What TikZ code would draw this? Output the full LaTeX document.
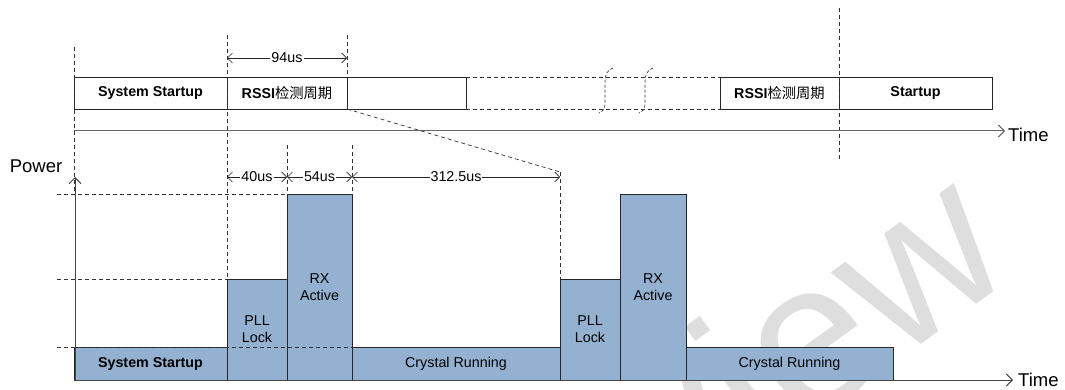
\documentclass[tikz,border=0pt]{standalone}
\usepackage{fontspec}
\setmainfont{Liberation Sans}
\newfontfamily\cjk{Noto Sans CJK SC}
\usetikzlibrary{arrows.meta}
\definecolor{blockblue}{RGB}{149,177,210}
\definecolor{linegray}{RGB}{70,70,70}
\definecolor{wmgray}{RGB}{222,222,222}

\begin{document}
\begin{tikzpicture}[x=1pt,y=-1pt,
  frame/.style={draw=black!85, line width=0.8pt, inner sep=0pt, outer sep=0pt,
    anchor=north west, align=center, font=\fontsize{14.3}{17}\selectfont},
  boldtext/.style={font=\fontsize{14.3}{17}\selectfont\bfseries},
  block/.style={frame, fill=blockblue},
  guide/.style={draw=black!80, line width=0.7pt, dash pattern=on 4pt off 3pt},
  dimline/.style={draw=black!85, line width=0.7pt,
    {Straight Barb[length=5pt,width=10pt]}-{Straight Barb[length=5pt,width=10pt]}},
  dimlabel/.style={fill=white, inner sep=1pt, font=\fontsize{14.3}{17}\selectfont},
  axis/.style={draw=linegray, line width=1pt, -{Straight Barb[length=6pt,width=12pt]}},
  axislabel/.style={font=\fontsize{18.5}{22}\selectfont, inner sep=0pt},
  ]
\useasboundingbox (0,0) rectangle (1065,390);

% watermark
\begin{scope}
  \clip (0,0) rectangle (1065,390);
  \node[text=wmgray, rotate=36, anchor=base east, inner sep=0pt,
        font=\fontsize{210}{210}\selectfont] (wm) at (1019,273) {Preview};
\end{scope}

% ---------- upper timeline ----------
\node[frame, boldtext, minimum width=153pt, minimum height=32pt] (sys) at (74,77) {System Startup};
\node[frame, minimum width=120pt, minimum height=32pt] (rs1) at (227,77) {\textbf{RSSI}{\cjk 检测周期}};
\node[frame, minimum width=119pt, minimum height=32pt] (idle) at (347,77) {};
\node[frame, minimum width=119pt, minimum height=32pt] (rs2) at (720,77) {\textbf{RSSI}{\cjk 检测周期}};
\node[frame, boldtext, minimum width=153pt, minimum height=32pt] (stu) at (839,77) {Startup};

\draw[guide] (idle.north east) -- (rs2.north west);
\draw[guide] (idle.south east) -- (rs2.south west);

% break marks
\foreach \bx in {605,645}{
  \draw[guide, dash pattern=on 3pt off 2pt]
    (\bx+8,68) .. controls (\bx+2,70) and (\bx,75) .. (\bx,82) -- (\bx,104)
    .. controls (\bx,109) and (\bx-2,111) .. (\bx-6,113);
}

% guides of the upper timeline
\coordinate (g0a) at (74,47);   \coordinate (g0b) at (74,195);
\coordinate (g1a) at (227,35);
\coordinate (g2a) at (347,35);
\coordinate (g9a) at (839,8);   \coordinate (g9b) at (839,160);
\draw[guide] (g0a) -- (g0b);
\draw[guide] (g2a) -- (rs1.north east);
\draw[guide] (g9a) -- (g9b);

% 94us
\coordinate (m0) at (227,58); \coordinate (m1) at (347,58);
\draw[dimline] (m0) -- node[dimlabel] {94us} (m1);

% upper time axis
\coordinate (ta0) at (74,131); \coordinate (ta1) at (1005,131);
\draw[axis, draw=black!60] (ta0) -- (ta1);
\node[axislabel, anchor=west] (tl1) at (1008,135) {Time};

% ---------- power profile ----------
\node[block, boldtext, minimum width=153pt, minimum height=33pt] (sysb) at (74,347) {System Startup};
\node[block, minimum width=60pt, minimum height=101pt] (pll1) at (227,279) {PLL\\Lock};
\node[block, minimum width=65pt, minimum height=186pt] (rx1) at (287,194) {RX\\Active};
\node[block, minimum width=208pt, minimum height=33pt] (cr1) at (352,347) {Crystal Running};
\node[block, minimum width=60pt, minimum height=101pt] (pll2) at (560,279) {PLL\\Lock};
\node[block, minimum width=66pt, minimum height=186pt] (rx2) at (620,194) {RX\\Active};
\node[block, minimum width=207pt, minimum height=33pt] (cr2) at (686,347) {Crystal Running};

% level guides
\coordinate (l1) at (57,194); \coordinate (l2) at (57,279); \coordinate (l3) at (57,347);
\draw[guide] (l1) -- (rx1.north west);
\draw[guide] (l2) -- (pll1.north west);
\draw[guide] (l3) -- (cr1.north west);

% vertical guides
\coordinate (v1) at (287,145); \coordinate (v2) at (352,145); \coordinate (v3) at (560,172);
\draw[guide] (g1a) -- (pll1.north west);
\draw[guide] (v1) -- (rx1.north west);
\draw[guide] (v2) -- (rx1.north east);
\draw[guide] (v3) -- (pll2.north west);
\draw[guide] (rs1.south east) -- (v3);

% durations
\coordinate (d0) at (227,177); \coordinate (d1) at (287,177);
\coordinate (d2) at (352,177); \coordinate (d3) at (560,177);
\draw[dimline] (d0) -- node[dimlabel] {40us} (d1);
\draw[dimline] (d1) -- node[dimlabel] {54us} (d2);
\draw[dimline] (d2) -- node[dimlabel] {312.5us} (d3);

% axes
\coordinate (p0) at (75,380); \coordinate (p1) at (75,177);
\coordinate (tb0) at (74,380); \coordinate (tb1) at (1013,380);
\draw[axis] (p0) -- (p1);
\draw[axis] (tb0) -- (tb1);
\node[axislabel] (pw) at (36,166) {Power};
\node[axislabel, anchor=west] (tl2) at (1018,380) {Time};
\end{tikzpicture}
\end{document}
